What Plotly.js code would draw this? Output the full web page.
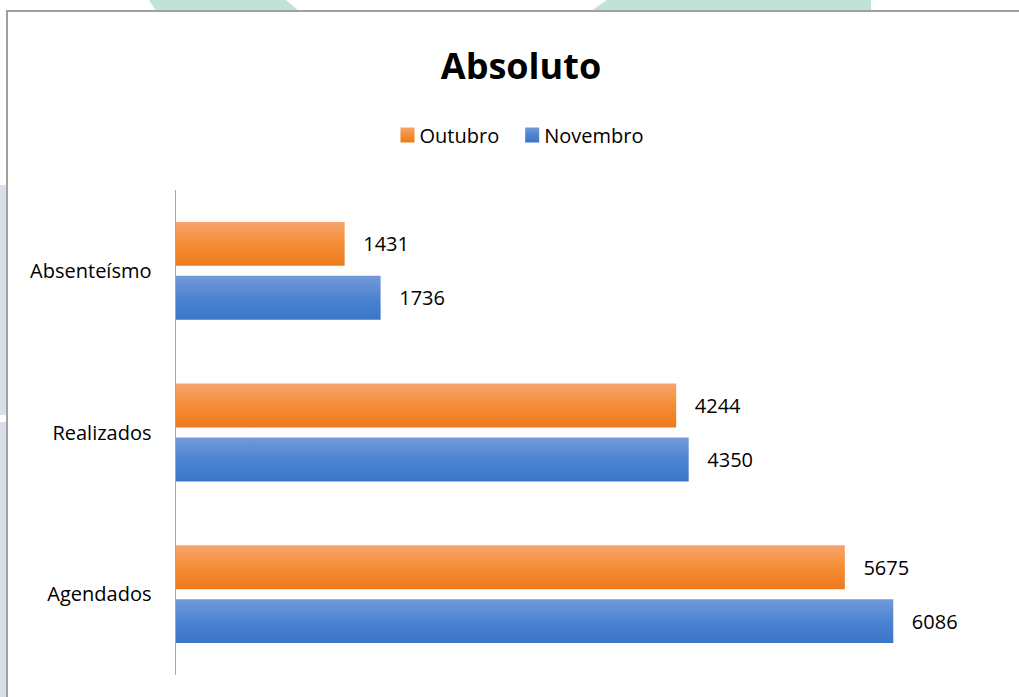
<!DOCTYPE html>
<html>
<head>
<meta charset="utf-8">
<script src="https://cdn.plot.ly/plotly-3.0.1.min.js"></script>
<style>
  html, body { margin: 0; padding: 0; background: #ffffff; }
  #wrap { position: relative; width: 1019px; height: 697px; overflow: hidden; background: #ffffff; }
  .deco { position: absolute; }
  #wm1 { left: 0; top: 0; width: 1019px; height: 11px; background: #BFE3D9;
         clip-path: polygon(149px 0, 286px 0, 299px 11px, 156px 11px); }
  #wm2 { left: 0; top: 0; width: 1019px; height: 11px; background: #BFE3D9;
         clip-path: polygon(607px 0, 871px 0, 871px 11px, 591px 11px); }
  #band1 { left: 0; top: 185px; width: 6px; height: 230px; background: #D8DFEA; }
  #band2 { left: 0; top: 422px; width: 6px; height: 275px; background: #D8DFEA; }
  #frame { left: 6px; top: 10px; width: 1020px; height: 700px; border-top: 2px solid #A0A0A0; border-left: 2px solid #A0A0A0; background: #ffffff; }
  #chart { position: absolute; left: 0; top: 0; width: 1019px; height: 697px; }
</style>
</head>
<body>
<div id="wrap">
  <div class="deco" id="wm1"></div>
  <div class="deco" id="wm2"></div>
  <div class="deco" id="band1"></div>
  <div class="deco" id="band2"></div>
  <div class="deco" id="frame"></div>
  <div id="chart"></div>
</div>
<script>
// ---- data ----
const categories = ['Absenteísmo', 'Realizados', 'Agendados'];
const seriesNames = ['Outubro', 'Novembro'];
const outubro = [1431, 4244, 5675];
const novembro = [1736, 4350, 6086];

const FONT = '"Open Sans", "Liberation Sans", Arial, sans-serif';
const pad = '\u00a0\u00a0\u00a0';

const traces = [
  {
    type: 'bar', orientation: 'h', name: seriesNames[0],
    y: categories, x: outubro,
    marker: { color: '#F28B30', line: { width: 0 } },
    text: outubro.map(String),
    texttemplate: pad + '%{text}',
    textposition: 'outside', cliponaxis: false, constraintext: 'none',
    textfont: { family: FONT, size: 20, color: '#000000' },
    hoverinfo: 'x+name'
  },
  {
    type: 'bar', orientation: 'h', name: seriesNames[1],
    y: categories, x: novembro,
    marker: { color: '#4A80CF', line: { width: 0 } },
    text: novembro.map(String),
    texttemplate: pad + '%{text}',
    textposition: 'outside', cliponaxis: false, constraintext: 'none',
    textfont: { family: FONT, size: 20, color: '#000000' },
    hoverinfo: 'x+name'
  }
];

const layout = {
  width: 1019, height: 697,
  paper_bgcolor: 'rgba(0,0,0,0)', plot_bgcolor: 'rgba(0,0,0,0)',
  margin: { l: 176, r: 18, t: 190, b: 22, pad: 0 },
  font: { family: FONT, size: 20, color: '#000000' },
  title: {
    text: 'Absoluto',
    font: { family: FONT, size: 36, weight: 700, color: '#000000' },
    xref: 'container', yref: 'container',
    x: 521 / 1019, y: 1 - 66 / 697, xanchor: 'center', yanchor: 'middle'
  },
  showlegend: true,
  legend: {
    orientation: 'h',
    xref: 'container', yref: 'container',
    x: 514 / 1019, y: 1 - 135 / 697, xanchor: 'center', yanchor: 'middle',
    font: { family: FONT, size: 20, color: '#000000' },
    itemwidth: 30, traceorder: 'normal', bgcolor: 'rgba(0,0,0,0)'
  },
  barmode: 'group',
  bargap: 0.333,
  bargroupgap: 0.185,
  xaxis: {
    range: [0, 7000], showgrid: false, zeroline: false,
    showticklabels: false, showline: false, ticks: '', fixedrange: true
  },
  yaxis: {
    type: 'category', autorange: 'reversed',
    showline: true, linecolor: '#A6A6A6', linewidth: 1.5,
    showgrid: false, zeroline: false, ticks: '',
    ticklabelstandoff: 19,
    tickfont: { family: FONT, size: 20, color: '#000000' },
    fixedrange: true
  }
};

function addGradients(gd) {
  const svg = gd.querySelector('svg.main-svg');
  const ns = 'http://www.w3.org/2000/svg';
  let defs = svg.querySelector('defs');
  if (!defs) { defs = document.createElementNS(ns, 'defs'); svg.insertBefore(defs, svg.firstChild); }
  const grads = [
    { id: 'gradOut', stops: [['0%', '#F6A56D'], ['50%', '#F58D36'], ['100%', '#EC7A1D']] },
    { id: 'gradNov', stops: [['0%', '#739AD9'], ['50%', '#4D84D2'], ['100%', '#3A75C6']] }
  ];
  grads.forEach(g => {
    const lg = document.createElementNS(ns, 'linearGradient');
    lg.setAttribute('id', g.id);
    lg.setAttribute('x1', '0'); lg.setAttribute('y1', '0');
    lg.setAttribute('x2', '0'); lg.setAttribute('y2', '1');
    g.stops.forEach(s => {
      const st = document.createElementNS(ns, 'stop');
      st.setAttribute('offset', s[0]);
      st.setAttribute('stop-color', s[1]);
      lg.appendChild(st);
    });
    defs.appendChild(lg);
  });
  const barTraces = gd.querySelectorAll('.barlayer .trace.bars');
  barTraces.forEach((t, i) => {
    t.querySelectorAll('.point path').forEach(p => { p.style.fill = 'url(#' + grads[i % 2].id + ')'; });
  });
  const legTraces = gd.querySelectorAll('.legend .traces');
  legTraces.forEach((t, i) => {
    t.querySelectorAll('.legendpoints path').forEach(p => {
      p.style.fill = 'url(#' + grads[i % 2].id + ')';
      p.setAttribute('d', 'M7,7.5H-7V-7.5H7Z');
      p.setAttribute('transform', 'translate(28,0)');
    });
  });
}

const gd = document.getElementById('chart');
Plotly.newPlot(gd, traces, layout, { displayModeBar: false, staticPlot: true }).then(addGradients);
</script>
</body>
</html>
